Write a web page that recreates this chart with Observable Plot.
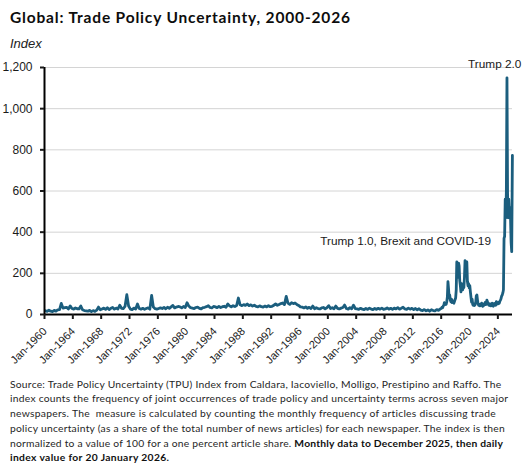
<!DOCTYPE html>
<html>
<head>
<meta charset="utf-8">
<script src="https://cdn.jsdelivr.net/npm/d3@7"></script>
<script src="https://cdn.jsdelivr.net/npm/@observablehq/plot@0.6"></script>
<style>
  html, body { margin: 0; padding: 0; background: #fff; }
  body { width: 532px; height: 472px; position: relative; overflow: hidden; }
  .abs { position: absolute; white-space: nowrap; }
  #title { left: 10px; top: 9.5px; font: bold 15.5px/1 Lato, "Open Sans", sans-serif; color: #0d0d0d; }
  #subtitle { left: 10px; top: 36.5px; font: italic 13px/1 "Liberation Sans", Arial, sans-serif; color: #222; }
  #chart { left: 0; top: 52px; }
  #caption { left: 10px; top: 376.5px; font: 10.3px/14.8px Lato, "Open Sans", sans-serif; color: #262626; }
  #caption .ln { display: block; }
  #caption .ln span.fitw { display: inline-block; }
  #caption b { font-weight: bold; color: #111; }
</style>
</head>
<body>
<div id="title" class="abs"><span class="fitw" data-w="340">Global: Trade Policy Uncertainty, 2000-2026</span></div>
<div id="subtitle" class="abs">Index</div>
<div id="chart" class="abs"></div>
<div id="caption" class="abs">
  <div class="ln"><span class="fitw" data-w="491">Source: Trade Policy Uncertainty (TPU) Index from Caldara, Iacoviello, Molligo, Prestipino and Raffo. The</span></div>
  <div class="ln"><span class="fitw" data-w="498">index counts the frequency of joint occurrences of trade policy and uncertainty terms across seven major</span></div>
  <div class="ln"><span class="fitw" data-w="486">newspapers. The&nbsp; measure is calculated by counting the monthly frequency of articles discussing trade</span></div>
  <div class="ln"><span class="fitw" data-w="495">policy uncertainty (as a share of the total number of news articles) for each newspaper. The index is then</span></div>
  <div class="ln"><span class="fitw" data-w="493">normalized to a value of 100 for a one percent article share. <b>Monthly data to December 2025, then daily</b></span></div>
  <div class="ln"><span class="fitw" data-w="159"><b>index value for 20 January 2026.</b></span></div>
</div>
<script>
// Quarterly index values, 1960 Q1 to 2015 Q4
const quarterly1960to2015 = [
  18, 15, 21, 16,   // 1960
  14, 20, 16, 23,   // 1961
  24, 54, 31, 33,   // 1962
  35, 27, 42, 29,   // 1963
  26, 32, 28, 27,   // 1964
  41, 23, 19, 18,   // 1965
  16, 20, 14, 19,   // 1966
  15, 21, 36, 23,   // 1967
  27, 31, 25, 33,   // 1968
  24, 30, 34, 26,   // 1969
  31, 27, 45, 30,   // 1970
  29, 39, 96, 41,   // 1971
  26, 24, 31, 27,   // 1972
  51, 29, 26, 30,   // 1973
  25, 29, 32, 26,   // 1974
  93, 36, 28, 26,   // 1975
  29, 32, 29, 34,   // 1976
  28, 35, 30, 37,   // 1977
  44, 32, 36, 39,   // 1978
  37, 32, 39, 34,   // 1979
  57, 41, 33, 31,   // 1980
  29, 34, 36, 30,   // 1981
  27, 33, 35, 38,   // 1982
  43, 34, 32, 39,   // 1983
  37, 33, 39, 34,   // 1984
  38, 40, 35, 51,   // 1985
  42, 37, 43, 39,   // 1986
  44, 80, 47, 43,   // 1987
  48, 44, 51, 43,   // 1988
  47, 41, 45, 39,   // 1989
  37, 42, 38, 36,   // 1990
  41, 37, 43, 38,   // 1991
  40, 45, 51, 45,   // 1992
  49, 53, 56, 48,   // 1993
  88, 55, 49, 57,   // 1994
  53, 56, 49, 44,   // 1995
  37, 36, 32, 37,   // 1996
  30, 35, 29, 41,   // 1997
  28, 33, 29, 27,   // 1998
  32, 34, 28, 33,   // 1999
  43, 29, 33, 28,   // 2000
  41, 30, 27, 31,   // 2001
  34, 46, 29, 26,   // 2002
  33, 28, 45, 29,   // 2003
  27, 25, 30, 26,   // 2004
  24, 29, 25, 31,   // 2005
  26, 24, 29, 25,   // 2006
  30, 26, 31, 25,   // 2007
  27, 32, 26, 30,   // 2008
  25, 31, 27, 33,   // 2009
  26, 30, 35, 27,   // 2010
  25, 31, 26, 30,   // 2011
  24, 29, 23, 28,   // 2012
  21, 19, 24, 18,   // 2013
  22, 16, 23, 19,   // 2014
  18, 24, 20, 27    // 2015
];
// Monthly index values, Jan 2016 to Dec 2025
const monthly2016to2025 = [
  30, 36, 33, 41, 45, 58, 48, 55, 50, 62, 85, 160,          // 2016
  125, 80, 95, 70, 62, 75, 58, 66, 60, 55, 63, 72,          // 2017
  80, 120, 255, 215, 180, 250, 235, 165, 140, 110, 150, 135, // 2018
  120, 140, 130, 180, 262, 250, 200, 255, 160, 140, 150, 130, // 2019
  140, 110, 85, 60, 75, 48, 45, 52, 44, 48, 58, 90,          // 2020
  95, 70, 52, 45, 50, 42, 48, 44, 55, 46, 40, 50,            // 2021
  45, 52, 58, 48, 55, 70, 62, 50, 46, 44, 52, 48,            // 2022
  42, 50, 55, 47, 40, 52, 48, 55, 45, 62, 50, 58,            // 2023
  52, 60, 55, 65, 70, 78, 90, 95, 105, 120, 370, 380,        // 2024
  560, 470, 600, 1150, 590, 470, 560, 480, 520, 470, 350, 305 // 2025
];
// Daily value, 20 January 2026
const dailyDate = "2026-01-20";
const dailyValue = 773;

const yTicks = [0, 200, 400, 600, 800, 1000, 1200];
const xTickYears = [1960, 1964, 1968, 1972, 1976, 1980, 1984, 1988, 1992, 1996, 2000, 2004, 2008, 2012, 2016, 2020, 2024];

const annLabels = ["Trump 2.0", "Trump 1.0, Brexit and COVID-19"];
const annDates = ["2019-10-20", "2023-01-10"];
const annValues = [1200, 340];
const annAnchors = ["start", "end"];

// Build table
const data = [];
quarterly1960to2015.forEach((v, i) => data.push({date: new Date(Date.UTC(1960, i * 3 + 1, 15)), value: v}));
monthly2016to2025.forEach((v, i) => data.push({date: new Date(Date.UTC(2016, i, 15)), value: v}));
data.push({date: new Date(dailyDate + "T00:00:00Z"), value: dailyValue});

const xTicks = xTickYears.map(y => new Date(Date.UTC(y, 0, 1)));
const ann = annLabels.map((t, i) => ({text: t, date: new Date(annDates[i] + "T00:00:00Z"), value: annValues[i], anchor: annAnchors[i]}));
const x0 = new Date(Date.UTC(1960, 0, 1));

const chart = Plot.plot({
  width: 532,
  height: 320,
  marginLeft: 44,
  marginRight: 20,
  marginTop: 15,
  marginBottom: 58,
  style: {fontFamily: '"Liberation Sans", Arial, sans-serif', fontSize: "12px", color: "#1a1a1a", background: "white"},
  x: {type: "utc", domain: [x0, new Date(Date.UTC(2026, 0, 25))], label: null},
  y: {domain: [0, 1200], label: null},
  marks: [
    Plot.gridY(yTicks.filter(d => d > 0), {stroke: "#d4d4d4", strokeOpacity: 1, strokeWidth: 1}),
    Plot.line(data, {x: "date", y: "value", stroke: "#1b5e7e", strokeWidth: 2.8, strokeLinejoin: "round", curve: "linear"}),
    Plot.ruleY([0], {stroke: "#000", strokeWidth: 2}),
    Plot.ruleX([x0], {y1: 0, y2: 1200, stroke: "#000", strokeWidth: 2}),
    Plot.axisY({ticks: yTicks, tickFormat: d3.format(","), tickSize: 4, tickPadding: 8, strokeWidth: 2, fontSize: 12, label: null}),
    Plot.axisX({ticks: xTicks, tickFormat: () => "", tickSize: 5, strokeWidth: 2, label: null}),
    Plot.text(xTicks, {x: d => d, y: () => 0, text: d => "Jan-" + d.getUTCFullYear(), rotate: -45, textAnchor: "end", lineAnchor: "middle", dy: 15, dx: 0.5, fontSize: 11, fill: "#1a1a1a"}),
    Plot.text(ann.filter(d => d.anchor === "start"), {x: "date", y: "value", text: "text", textAnchor: "start", lineAnchor: "bottom", fontSize: 11.8, fill: "#1a1a1a"}),
    Plot.text(ann.filter(d => d.anchor === "end"), {x: "date", y: "value", text: "text", textAnchor: "end", lineAnchor: "bottom", fontSize: 11.8, fill: "#1a1a1a"})
  ]
});
document.getElementById("chart").appendChild(chart);

function fitAll() {
  document.querySelectorAll(".fitw").forEach(el => {
    el.style.letterSpacing = "0px";
    const target = +el.dataset.w;
    const w = el.getBoundingClientRect().width;
    const n = el.textContent.length;
    el.style.letterSpacing = ((target - w) / Math.max(1, n - 1)) + "px";
  });
}
fitAll();
if (document.fonts && document.fonts.ready) document.fonts.ready.then(fitAll);
</script>
</body>
</html>
